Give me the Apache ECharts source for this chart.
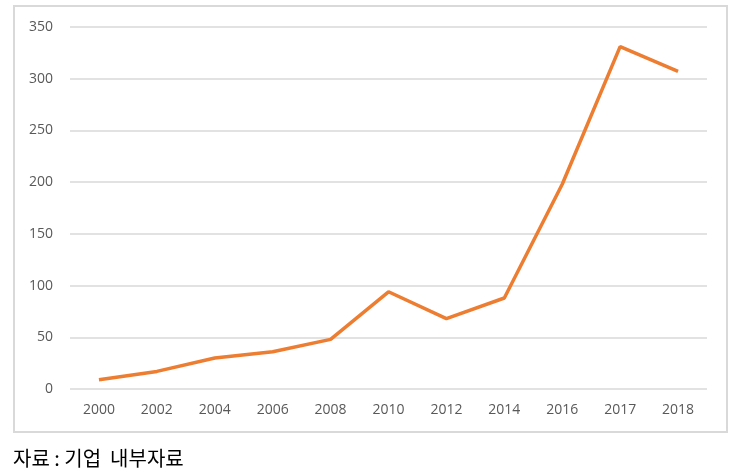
<!DOCTYPE html>
<html>
<head>
<meta charset="utf-8">
<script src="https://cdn.jsdelivr.net/npm/echarts@6/dist/echarts.min.js"></script>
<style>
html,body{margin:0;padding:0;background:#fff;}
#chart{width:738px;height:476px;}
</style>
</head>
<body>
<div id="chart"></div>
<script>
const categories = ['2000','2002','2004','2006','2008','2010','2012','2014','2016','2017','2018'];
const values = [9, 17, 30, 36, 48, 94, 68, 88, 198, 331, 307];
const yTicks = [0, 50, 100, 150, 200, 250, 300, 350];
const caption = '자료 : 기업  내부자료';

const chart = echarts.init(document.getElementById('chart'), null, {renderer: 'canvas'});
chart.setOption({
  animation: false,
  backgroundColor: '#fff',
  grid: {left: 70, right: 31, top: 27, bottom: 87, containLabel: false},
  graphic: [
    {type: 'rect', shape: {x: 14, y: 6, width: 713, height: 426}, style: {fill: 'none', stroke: '#d9d9d9', lineWidth: 2}, silent: true},
    {type: 'text', left: 13, top: 448, style: {text: caption, fill: '#000', font: '20px "Noto Sans CJK KR"'}}
  ],
  xAxis: {
    type: 'category',
    data: categories,
    boundaryGap: true,
    axisLine: {show: false},
    axisTick: {show: false},
    axisLabel: {color: '#595959', fontSize: 14, fontFamily: 'Open Sans', margin: 14}
  },
  yAxis: {
    type: 'value',
    min: yTicks[0],
    max: yTicks[yTicks.length - 1],
    interval: 50,
    axisLine: {show: false},
    axisTick: {show: false},
    axisLabel: {color: '#595959', fontSize: 14, fontFamily: 'Open Sans', margin: 17},
    splitLine: {lineStyle: {color: '#d9d9d9', width: 1.5}}
  },
  series: [{
    type: 'line',
    data: values,
    symbol: 'none',
    lineStyle: {color: '#ED7D31', width: 3.5},
    itemStyle: {color: '#ED7D31'}
  }]
});
</script>
</body>
</html>
